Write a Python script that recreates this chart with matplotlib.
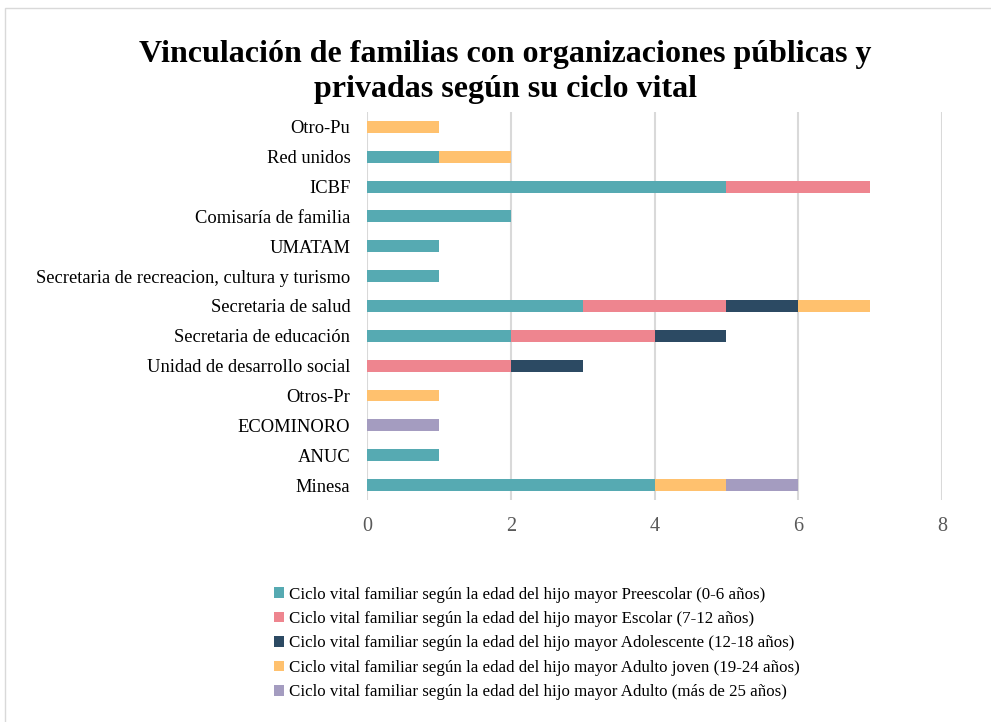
import numpy as np
import matplotlib.pyplot as plt
from matplotlib.patches import Rectangle

plt.rcParams['font.family'] = ['Liberation Serif', 'DejaVu Serif']

categories = ['Minesa', 'ANUC', 'ECOMINORO', 'Otros-Pr', 'Unidad de desarrollo social',
              'Secretaria de educación', 'Secretaria de salud',
              'Secretaria de recreacion, cultura y turismo', 'UMATAM',
              'Comisaría de familia', 'ICBF', 'Red unidos', 'Otro-Pu']

preescolar = [4, 1, 0, 0, 0, 2, 3, 1, 1, 2, 5, 1, 0]
escolar = [0, 0, 0, 0, 2, 2, 2, 0, 0, 0, 2, 0, 0]
adolescente = [0, 0, 0, 0, 1, 1, 1, 0, 0, 0, 0, 0, 0]
adulto_joven = [1, 0, 0, 1, 0, 0, 1, 0, 0, 0, 0, 1, 1]
adulto = [1, 0, 1, 0, 0, 0, 0, 0, 0, 0, 0, 0, 0]

series = [preescolar, escolar, adolescente, adulto_joven, adulto]
labels = ['Ciclo vital familiar según la edad del hijo mayor Preescolar (0-6 años)',
          'Ciclo vital familiar según la edad del hijo mayor Escolar (7-12 años)',
          'Ciclo vital familiar según la edad del hijo mayor Adolescente (12-18 años)',
          'Ciclo vital familiar según la edad del hijo mayor Adulto joven (19-24 años)',
          'Ciclo vital familiar según la edad del hijo mayor Adulto (más de 25 años)']
colors = ['#56AAB2', '#EE858F', '#2C4A63', '#FFC16E', '#A49CC0']

fig = plt.figure(figsize=(9.91, 7.22), dpi=100)
ax = fig.add_axes([0.3703, 0.3075, 0.5803, 0.5375])

y = np.arange(len(categories))
left = np.zeros(len(categories))
for vals, lab, col in zip(series, labels, colors):
    ax.barh(y, vals, left=left, height=0.4, color=col, label=lab, zorder=3)
    left += np.array(vals)

ax.set_xlim(0, 8)
ax.set_ylim(-0.5, len(categories) - 0.5)
ax.set_xticks([0, 2, 4, 6, 8])
ax.set_yticks(y)
ax.set_yticklabels(categories, fontsize=13.3)
ax.tick_params(axis='x', labelsize=14.5, labelcolor='#595959', length=0, pad=12)
ax.tick_params(axis='y', length=0, pad=12)
ax.grid(axis='x', color='#D9D9D9', linewidth=1.5, zorder=0)
for s in ax.spines.values():
    s.set_visible(False)

fig.text(0.51, 0.9, 'Vinculación de familias con organizaciones públicas y\nprivadas según su ciclo vital',
         ha='center', va='center', fontsize=23, fontweight='bold', linespacing=1.3)

fig.legend(loc='upper left', bbox_to_anchor=(0.27, 0.197), frameon=False, fontsize=12.2,
           handlelength=0.55, handleheight=0.55, handletextpad=0.3, labelspacing=0.5,
           borderaxespad=0)

fig.patches.append(Rectangle((0.005, -0.02), 1.1, 1.0089, transform=fig.transFigure,
                             fill=False, edgecolor='#D9D9D9', linewidth=1))

fig.savefig('out.png', dpi=100)
